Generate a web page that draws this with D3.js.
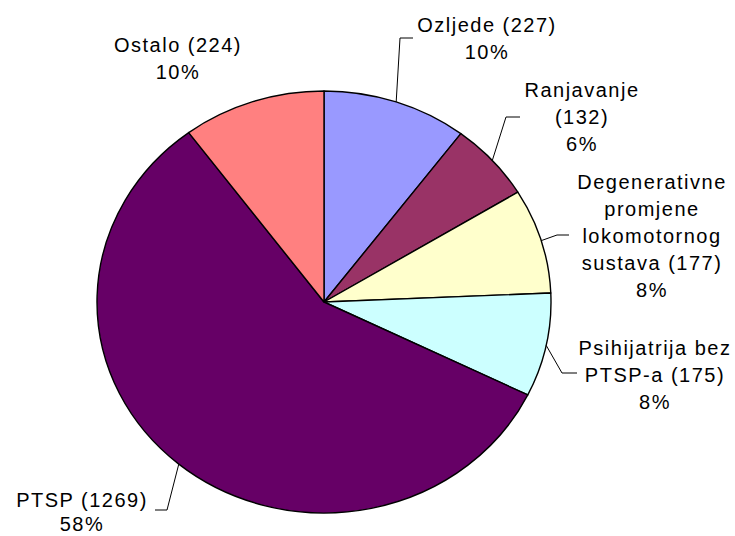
<!DOCTYPE html>
<html>
<head>
<meta charset="utf-8">
<script src="https://cdn.jsdelivr.net/npm/d3@7"></script>
<style>
  html, body { margin: 0; padding: 0; background: #fff; }
  svg { display: block; }
  text { font-family: "Liberation Sans", Arial, sans-serif; font-size: 20px; fill: #000; letter-spacing: 1.5px; }
</style>
</head>
<body>
<svg id="chart" width="735" height="536"></svg>
<script>
// ---- data ----
const categories = ["Ozljede", "Ranjavanje", "Degenerativne promjene lokomotornog sustava", "Psihijatrija bez PTSP-a", "PTSP", "Ostalo"];
const values = [227, 132, 177, 175, 1269, 224];
const percentLabels = ["10%", "6%", "8%", "8%", "58%", "10%"];
const labelLines = [
  ["Ozljede (227)", "10%"],
  ["Ranjavanje", "(132)", "6%"],
  ["Degenerativne", "promjene", "lokomotornog", "sustava (177)", "8%"],
  ["Psihijatrija bez", "PTSP-a (175)", "8%"],
  ["PTSP (1269)", "58%"],
  ["Ostalo (224)", "10%"]
];
const colors = ["#9999FF", "#993366", "#FFFFCC", "#CCFFFF", "#660066", "#FF8080"];

// ---- layout ----
const cx = 324, cy = 302, rx = 227, ry = 211;
// label text centre x, first baseline y, line height, leader elbow and end
const layout = [
  { x: 487, y: 32, h: 27, elbow: [400, 38], end: [413, 38] },
  { x: 582, y: 96.5, h: 27, elbow: [506, 117], end: [520, 117] },
  { x: 652, y: 189, h: 27, elbow: [557, 235], end: [569, 235] },
  { x: 655, y: 355, h: 27, elbow: [562, 373], end: [577, 373] },
  { x: 82, y: 507, h: 24, elbow: [167, 510], end: [155, 510] },
  { x: 178, y: 52, h: 27, elbow: null, end: null }
];

const svg = d3.select("#chart");
const data = categories.map((c, i) => ({ name: c, value: values[i], i }));

const pie = d3.pie().value(d => d.value).sort(null).startAngle(0).endAngle(2 * Math.PI);
const arcs = pie(data);
const arc = d3.arc().innerRadius(0).outerRadius(rx);

const g = svg.append("g").attr("transform", `translate(${cx},${cy}) scale(1,${ry / rx})`);
g.selectAll("path").data(arcs).enter().append("path")
  .attr("d", arc)
  .attr("fill", d => colors[d.data.i])
  .attr("stroke", "#000")
  .attr("stroke-width", 1.4)
  .attr("stroke-linejoin", "round")
  .attr("vector-effect", "non-scaling-stroke");

// leader lines
arcs.forEach(a => {
  const L = layout[a.data.i];
  if (!L.elbow) return;
  const mid = (a.startAngle + a.endAngle) / 2;
  const sx = cx + rx * Math.sin(mid), sy = cy - ry * Math.cos(mid);
  svg.append("polyline")
    .attr("points", [[sx, sy], L.elbow, L.end].map(p => p.join(",")).join(" "))
    .attr("fill", "none")
    .attr("stroke", "#000")
    .attr("stroke-width", 1);
});

// labels
data.forEach(d => {
  const L = layout[d.i];
  const t = svg.append("text").attr("text-anchor", "middle");
  labelLines[d.i].forEach((ln, k) => {
    t.append("tspan").attr("x", L.x).attr("y", L.y + k * L.h).text(ln);
  });
});
</script>
</body>
</html>
